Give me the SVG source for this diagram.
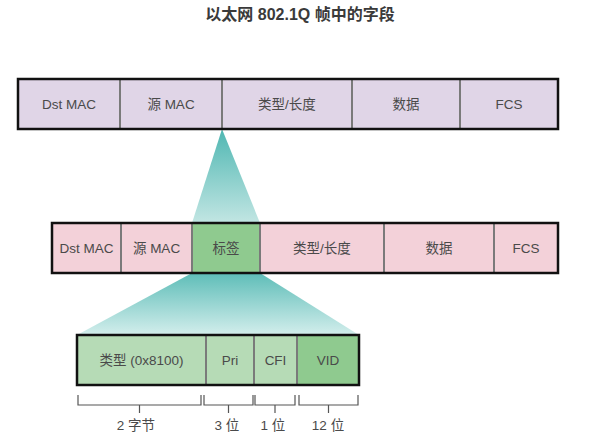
<svg xmlns="http://www.w3.org/2000/svg" width="605" height="444" viewBox="0 0 605 444">
<defs>
<linearGradient id="g1" x1="0" y1="0" x2="0" y2="1">
<stop offset="0" stop-color="#4fb7b2"/>
<stop offset="1" stop-color="#c2e6e3"/>
</linearGradient>
<linearGradient id="g2" x1="0" y1="0" x2="0" y2="1">
<stop offset="0" stop-color="#5ebdb8"/>
<stop offset="1" stop-color="#d3eeec"/>
</linearGradient>
<style>
text{font-family:"Liberation Sans","Noto Sans CJK SC",sans-serif;font-size:13.5px;fill:#4a4a4a;text-anchor:middle;dominant-baseline:central}
.title{font-size:16px;font-weight:bold;fill:#3a3a3a}
.frame{fill:none;stroke:#111;stroke-width:2.5}
.div{stroke:#7a7a7a;stroke-width:2}
.br{fill:none;stroke:#555;stroke-width:1.2}
.lav{fill:#e0d5e7}
.pink{fill:#f3d1d9}
.lg{fill:#b6dbb6}
.dg{fill:#8fca8f}
</style>
</defs>
<text class="title" x="300" y="14">以太网 802.1Q 帧中的字段</text>
<g id="expanders">
<polygon points="222,129 192,223 260,223" fill="url(#g1)"/>
<polygon points="192,273 260,273 359,335 77,335" fill="url(#g2)"/>
</g>
<g id="frame-top">
<rect class="lav" x="18" y="79" width="540" height="50"/>
<line class="div" x1="120" y1="79" x2="120" y2="129"/>
<line class="div" x1="222" y1="79" x2="222" y2="129"/>
<line class="div" x1="352" y1="79" x2="352" y2="129"/>
<line class="div" x1="460" y1="79" x2="460" y2="129"/>
<rect class="frame" x="18" y="79" width="540" height="50"/>
<text x="69" y="104">Dst MAC</text>
<text x="171" y="104">源 MAC</text>
<text x="287" y="104">类型/长度</text>
<text x="406" y="104">数据</text>
<text x="509" y="104">FCS</text>
</g>
<g id="frame-tagged">
<rect class="pink" x="52" y="223" width="506" height="50"/>
<rect class="dg" x="192" y="223" width="68" height="50"/>
<line class="div" x1="121" y1="223" x2="121" y2="273"/>
<line class="div" x1="192" y1="223" x2="192" y2="273"/>
<line class="div" x1="260" y1="223" x2="260" y2="273"/>
<line class="div" x1="384" y1="223" x2="384" y2="273"/>
<line class="div" x1="494" y1="223" x2="494" y2="273"/>
<rect class="frame" x="52" y="223" width="506" height="50"/>
<text x="86.5" y="248">Dst MAC</text>
<text x="156.5" y="248">源 MAC</text>
<text x="226" y="248">标签</text>
<text x="322" y="248">类型/长度</text>
<text x="439" y="248">数据</text>
<text x="526" y="248">FCS</text>
</g>
<g id="tag-fields">
<rect class="lg" x="77" y="335" width="282" height="50"/>
<rect class="dg" x="297" y="335" width="62" height="50"/>
<line class="div" x1="206" y1="335" x2="206" y2="385"/>
<line class="div" x1="254" y1="335" x2="254" y2="385"/>
<line class="div" x1="297" y1="335" x2="297" y2="385"/>
<rect class="frame" x="77" y="335" width="282" height="50"/>
<text x="141.5" y="360">类型 (0x8100)</text>
<text x="230" y="360">Pri</text>
<text x="275.5" y="360">CFI</text>
<text x="328" y="360">VID</text>
</g>
<g id="connectors">
<path class="br" d="M78,395 V405 H201 V395 M139.5,405 V413"/>
<path class="br" d="M204,395 V405 H253 V395 M228.5,405 V413"/>
<path class="br" d="M255,395 V405 H295 V395 M275,405 V413"/>
<path class="br" d="M299,395 V405 H358 V395 M328.5,405 V413"/>
</g>
<g id="sizes">
<text x="136" y="425">2 字节</text>
<text x="227" y="425">3 位</text>
<text x="273" y="425">1 位</text>
<text x="328" y="425">12 位</text>
</g>
</svg>
